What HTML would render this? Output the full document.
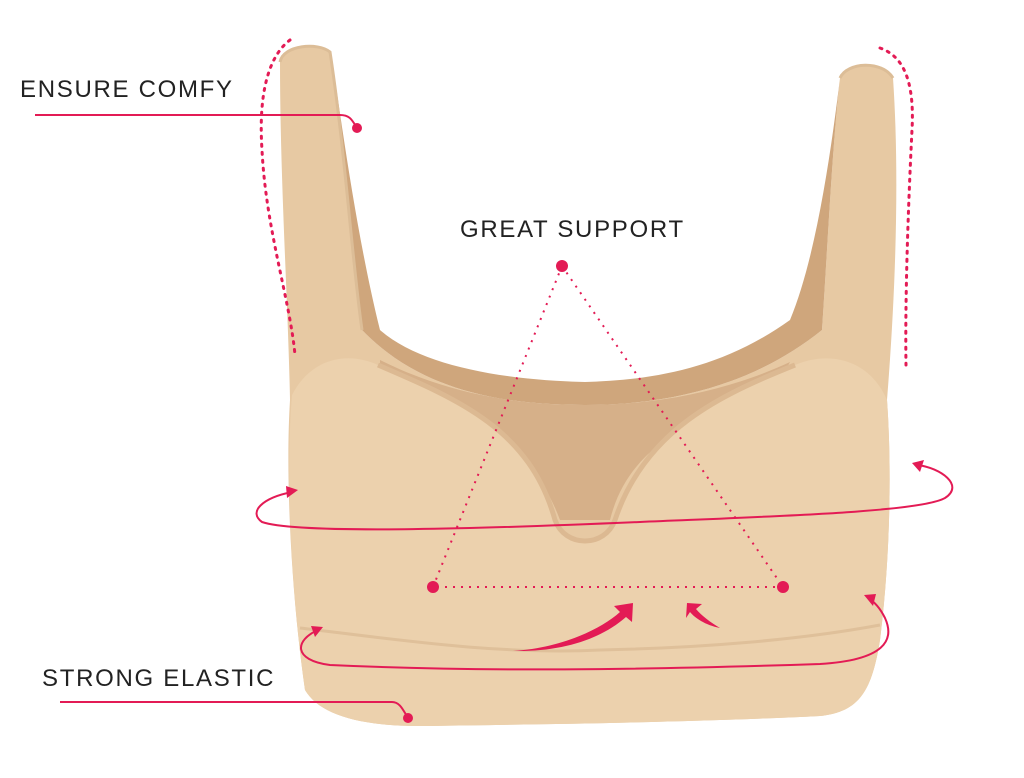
<!DOCTYPE html>
<html><head><meta charset="utf-8"><style>
html,body{margin:0;padding:0;background:#fff;}
svg{display:block}
text{font-family:"Liberation Sans",sans-serif;font-size:24px;fill:#222;letter-spacing:1.7px}
</style></head><body>
<svg width="1024" height="778" viewBox="0 0 1024 778" xmlns="http://www.w3.org/2000/svg">
<path d="M280,62 C283,45 318,42 330,52 C345,150 352,260 362,330 C420,390 500,405 585,405 C680,405 760,380 822,330 C828,240 832,150 840,78 C847,62 882,60 893,78 C900,180 895,300 887,400 C892,470 890,560 880,640 C872,690 860,712 820,716 C700,722 560,724 430,726 C360,727 320,715 305,690 C292,600 285,480 290,400 C288,300 280,180 280,62 Z" fill="#e7c9a3"/>
<path d="M332,58 C345,150 352,260 362,330 C420,390 500,405 585,405 C680,405 760,380 822,330 C828,240 832,150 840,78 C830,160 815,260 790,320 C720,370 650,380 585,382 C500,380 420,365 380,330 C360,250 345,150 332,58 Z" fill="#cfa67c"/>
<path d="M380,360 C450,395 520,405 585,405 C660,405 730,390 790,362 L780,380 C700,420 630,440 610,520 L560,520 C530,440 470,410 380,372 Z" fill="#d6b089"/>
<path d="M292,395 C310,360 345,350 378,365 C460,400 530,430 555,520 C565,548 605,548 615,520 C645,430 720,395 795,365 C830,350 870,360 887,400 C892,470 890,560 880,640 C872,690 860,712 820,716 C700,722 560,724 430,726 C360,727 320,715 305,690 C292,600 285,480 292,395 Z" fill="#ecd1ad"/>
<path d="M378,365 C460,400 530,430 555,520 C565,548 605,548 615,520 C645,430 720,395 795,365" fill="none" stroke="#dcb992" stroke-width="5"/>
<path d="M300,628 C400,640 500,655 600,650 C700,648 800,640 880,625" fill="none" stroke="#dfc09a" stroke-width="3"/>
<path d="M280,62 C283,45 318,42 330,52 C345,150 352,260 362,330" fill="none" stroke="#dcbd97" stroke-width="3"/>
<path d="M840,78 C847,62 882,60 893,78" fill="none" stroke="#dcbd97" stroke-width="3"/>
<g fill="none" stroke="#e31b55" stroke-width="2">
<path d="M35,115 L340,115 C350,115 352,120 357,128"/>
<path d="M60,702 L392,702 C400,702 403,710 408,718"/>
<path d="M292,492 C262,498 248,512 262,522 C300,535 500,528 640,522 C780,516 920,512 945,498 C965,485 940,468 918,465"/>
<path d="M318,630 C295,640 292,660 330,665 C480,672 640,670 820,664 C885,660 895,640 885,618 C880,608 875,602 868,598"/>
</g>
<g fill="#e31b55">
<path d="M298,490 L286,486 L287,498 Z"/>
<path d="M912,463 L924,460 L920,472 Z"/>
<path d="M323,627 L311,626 L315,637 Z"/>
<path d="M864,595 L876,594 L873,606 Z"/>
<circle cx="357" cy="128" r="5"/><circle cx="408" cy="718" r="5"/>
<circle cx="562" cy="266" r="6"/><circle cx="433" cy="587" r="6"/><circle cx="783" cy="587" r="6"/>
<path d="M513,651 C560,648 600,630 620,612 L614,606 L633,603 L632,622 L626,617 C600,640 560,652 513,651 Z"/>
<path d="M720,628 C705,625 695,618 690,612 L686,618 L687,603 L702,604 L696,609 C702,616 710,622 720,628 Z"/>
</g>
<g fill="none" stroke="#e31b55" stroke-width="3" stroke-dasharray="2 6" stroke-linecap="round">
<path d="M290,40 C270,55 258,90 262,150 C266,230 290,300 295,355"/>
<path d="M880,48 C900,55 915,75 912,130 C908,210 905,300 906,365"/>
</g>
<g fill="none" stroke="#e31b55" stroke-width="2" stroke-dasharray="2 6">
<path d="M562,266 L433,587"/><path d="M562,266 L783,587"/><path d="M445,587 L775,587"/>
</g>
<text x="20" y="97">ENSURE COMFY</text>
<text x="460" y="237">GREAT SUPPORT</text>
<text x="42" y="686">STRONG ELASTIC</text>
</svg>
</body></html>
